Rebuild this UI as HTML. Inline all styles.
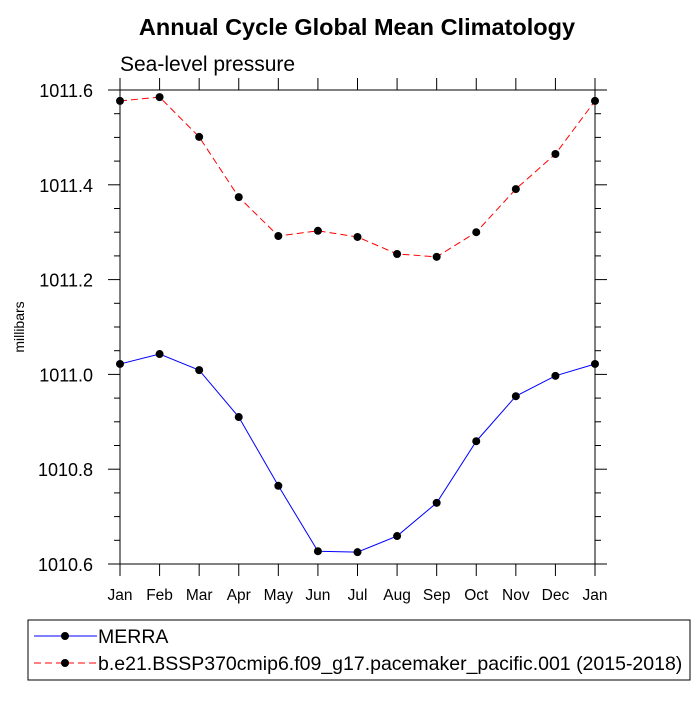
<!DOCTYPE html>
<html><head><meta charset="utf-8"><style>
body{margin:0;background:#fff;}
svg{font-family:"Liberation Sans",sans-serif;}
</style></head><body>
<svg id="chart" width="700" height="700">
<text x="357" y="35" text-anchor="middle" font-size="23.5" font-weight="bold">Annual Cycle Global Mean Climatology</text>
<text x="120" y="71" font-size="21">Sea-level pressure</text>
<text transform="translate(24,327) rotate(-90)" text-anchor="middle" font-size="14">millibars</text>
<g id="axes"></g>
<g id="series"></g>
<rect x="28" y="620" width="662" height="60" fill="none" stroke="#000" stroke-width="1"/>
<g>
<line x1="34" y1="636" x2="97" y2="636" stroke="#00f" stroke-width="1"/>
<circle cx="65" cy="636" r="4" fill="#000"/>
<text x="98" y="643" font-size="19.5">MERRA</text>
</g>
<g>
<line x1="34" y1="663" x2="97" y2="663" stroke="#f00" stroke-width="1" stroke-dasharray="7,4"/>
<circle cx="65" cy="663" r="4" fill="#000"/>
<text x="98" y="670" font-size="19.5">b.e21.BSSP370cmip6.f09_g17.pacemaker_pacific.001 (2015-2018)</text>
</g>
</svg>
<script>
const months=["Jan","Feb","Mar","Apr","May","Jun","Jul","Aug","Sep","Oct","Nov","Dec","Jan"];
const merra=[1011.022,1011.043,1011.009,1010.910,1010.765,1010.627,1010.625,1010.659,1010.729,1010.859,1010.954,1010.997,1011.022];
const model=[1011.577,1011.585,1011.501,1011.374,1011.292,1011.303,1011.290,1011.254,1011.248,1011.300,1011.391,1011.465,1011.577];
const yTicks=[1010.6,1010.8,1011.0,1011.2,1011.4,1011.6];
const L=120,R=595,T=90,B=564,yMin=1010.6,yMax=1011.6;
const xs=i=>L+i*(R-L)/(months.length-1);
const ys=v=>B-(v-yMin)/(yMax-yMin)*(B-T);
const NS="http://www.w3.org/2000/svg";
function mk(tag,attrs,parent){const e=document.createElementNS(NS,tag);for(const k in attrs)e.setAttribute(k,attrs[k]);parent.appendChild(e);return e;}
const ax=document.getElementById('axes');
const frame=mk('rect',{x:L,y:T,width:R-L,height:B-T,fill:'none',stroke:'#000','stroke-width':1},ax);


months.forEach((m,i)=>{
 const x=xs(i);
 mk('line',{x1:x,y1:B,x2:x,y2:B+12,stroke:'#000'},ax);
 mk('line',{x1:x,y1:T,x2:x,y2:T-12,stroke:'#000'},ax);
 const t=mk('text',{x:x,y:B+36,'text-anchor':'middle','font-size':15.5},ax);
 t.textContent=m;
 
 
});
for(let v=yMin;v<=yMax+1e-9;v+=0.05){
 const y=ys(v);const major=Math.abs(Math.round(v*5)-v*5)<1e-6;
 const len=major?12:6;
 mk('line',{x1:L,y1:y,x2:L-len,y2:y,stroke:'#000'},ax);
 mk('line',{x1:R,y1:y,x2:R+len,y2:y,stroke:'#000'},ax);
}
yTicks.forEach(v=>{
 const t=mk('text',{x:L-27,y:ys(v)+7,'text-anchor':'end','font-size':18},ax);
 t.textContent=v.toFixed(1);
 
 
});
const sg=document.getElementById('series');
function draw(data,color,dash,name){
 const g=mk('g',{},sg);
 
 
 const p=mk('polyline',{points:data.map((v,i)=>xs(i)+','+ys(v)).join(' '),fill:'none',stroke:color,'stroke-width':1},g);
 if(dash)p.setAttribute('stroke-dasharray',dash);
 data.forEach((v,i)=>{
  const c=mk('circle',{cx:xs(i),cy:ys(v),r:4,fill:'#000'},g);
  
  
 });
}
draw(merra,'#00f',null,'merra-series');
draw(model,'#f00','7,4','model-series');
</script>
</body></html>
